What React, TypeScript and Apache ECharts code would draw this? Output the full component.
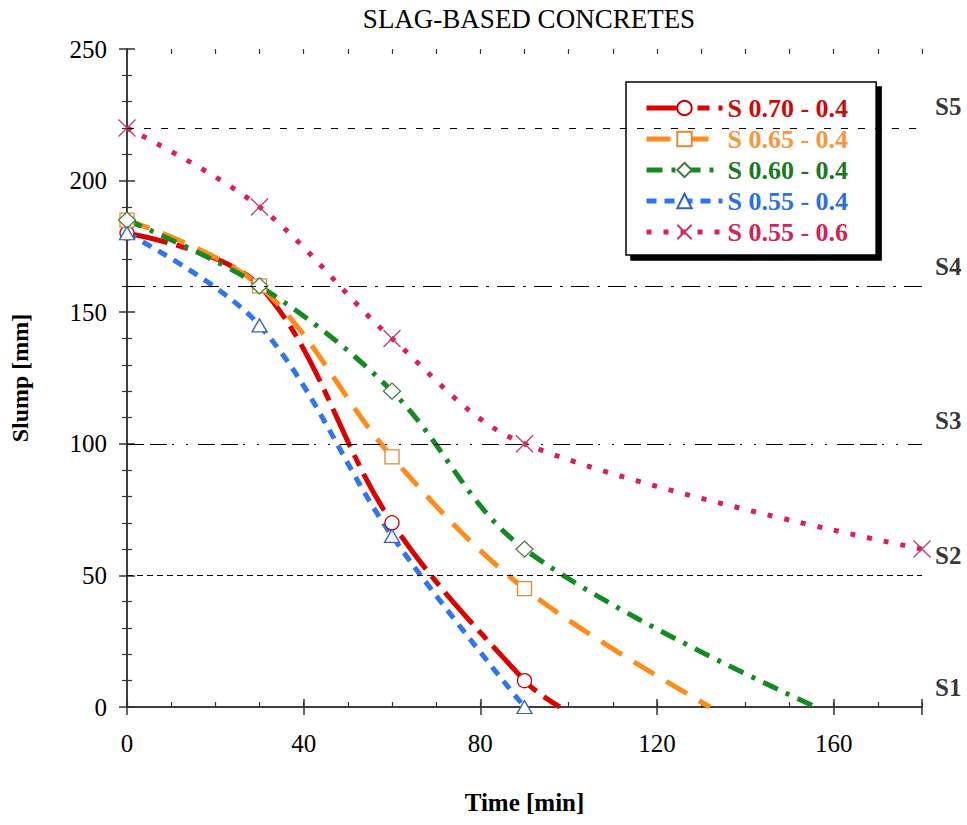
import React, { useEffect, useRef } from "react";
import * as echarts from "echarts";

const TITLE = "SLAG-BASED CONCRETES";
const X_NAME = "Time [min]";
const Y_NAME = "Slump [mm]";

const measureTimes = [0, 30, 60, 90];
const pinkTimes = [0, 30, 60, 90, 180];
const s070 = [180, 160, 70, 10];
const s065 = [185, 160, 95, 45];
const s060 = [185, 160, 120, 60];
const s055 = [180, 145, 65, 0];
const s055b = [220, 190, 140, 100, 60];
// where the fitted curves reach zero slump
const s070End = [98, 0];
const s065End = [132, 0];
const s060End = [156, 0];

const seriesNames = ["S 0.70 - 0.4", "S 0.65 - 0.4", "S 0.60 - 0.4", "S 0.55 - 0.4", "S 0.55 - 0.6"];
const classNames = ["S1", "S2", "S3", "S4", "S5"];
const classLabelY = [7.5, 57.5, 109, 167.5, 228];
const refLines = [220, 160, 100, 50];

const xMin = 0, xMax = 180, xMajor = 40, xMinor = 10;
const yMin = 0, yMax = 250, yMajor = 50;

const FONT = "'Liberation Serif', 'Times New Roman', serif";

const lineColors = ["#dd0000", "#ff8c1a", "#138a22", "#2f74f0", "#dc1e5a"];
const textColors = ["#cc0a0a", "#f7963a", "#19791f", "#2c6fe0", "#d4235a"];
const markerBorders = ["#cc0000", "#e08a30", "#3f7d3f", "#3060d0", "#c03a70"];
const dashes: any[] = [[42, 9, 12, 9], [24, 14], [16, 9, 4, 9], [10, 8], [5, 12]];
const symbols = ["circle", "rect", "diamond", "triangle", "path://M0 0L10 10M10 0L0 10"];
const symbolSizes: any[] = [14, 14, [17, 16], [15, 13], 17];
const refStyles: any[] = [[7, 10], [18, 8, 3, 8], [17, 6, 17, 5, 2, 12, 2, 10], [6, 4]];

function pts(times: number[], vals: number[], end?: number[]) {
  const d: any[] = times.map((t, i) => ({ value: [t, vals[i]] }));
  if (end) d.push({ value: end, symbol: "none" });
  return d;
}

export default function App() {
  const ref = useRef<HTMLDivElement>(null);
  useEffect(() => {
    if (!ref.current) return;
    const chart = echarts.init(ref.current, undefined, { renderer: "svg" });
    const datasets = [
      pts(measureTimes, s070, s070End),
      pts(measureTimes, s065, s065End),
      pts(measureTimes, s060, s060End),
      pts(measureTimes, s055),
      pts(pinkTimes, s055b),
    ];
    const axisLine = { show: true, lineStyle: { color: "#333", width: 1.5 } };
    const lineSeries = datasets.map((d, i) => ({
      name: seriesNames[i],
      type: "line",
      data: d,
      smooth: 0.35,
      symbol: symbols[i],
      symbolSize: symbolSizes[i],
      showAllSymbol: true,
      color: lineColors[i],
      lineStyle: { color: lineColors[i], width: 5, type: dashes[i], cap: "butt" },
      itemStyle: { color: "#fff", borderColor: markerBorders[i], borderWidth: 1.3 },
      z: 3,
    }));
    chart.setOption({
      animation: false,
      title: {
        text: TITLE,
        left: 524,
        top: 0,
        textAlign: "center",
        textStyle: { fontFamily: FONT, fontWeight: "normal", fontSize: 27, color: "#000" },
      },
      grid: { left: 127, right: 45, top: 49, bottom: 118 },
      legend: {
        orient: "vertical",
        left: 626,
        top: 82,
        padding: [13, 28, 10, 18],
        itemWidth: 76,
        itemHeight: 18,
        itemGap: 5,
        backgroundColor: "#fff",
        borderColor: "#000",
        borderWidth: 1.5,
        shadowColor: "#000",
        shadowOffsetX: 5,
        shadowOffsetY: 5,
        shadowBlur: 0,
        selectedMode: false,
        lineStyle: { width: 5 },
        textStyle: { fontFamily: FONT, fontWeight: "bold", fontSize: 26 },
        data: seriesNames.map((n, i) => ({ name: n, textStyle: { color: textColors[i] } })),
      },
      xAxis: [
        {
          type: "value", position: "bottom", min: xMin, max: xMax, interval: xMajor,
          axisLine, splitLine: { show: false },
          axisTick: { inside: true, length: 8, lineStyle: { color: "#333", width: 1.5 } },
          axisLabel: {
            fontFamily: FONT, fontSize: 25, color: "#000", margin: 24,
            formatter: (v: number) => (v === xMax ? "" : String(v)),
          },
          name: X_NAME, nameLocation: "middle", nameGap: 83,
          nameTextStyle: { fontFamily: FONT, fontWeight: "bold", fontSize: 25, color: "#000" },
        },
        {
          type: "value", position: "top", min: xMin, max: xMax, interval: xMajor,
          axisLine, splitLine: { show: false }, axisLabel: { show: false },
          axisTick: { inside: true, length: 8, lineStyle: { color: "#333", width: 1.5 } },
        },
        {
          type: "value", position: "bottom", min: xMin, max: xMax, interval: xMinor,
          axisLine: { show: false }, splitLine: { show: false }, axisLabel: { show: false },
          axisTick: { inside: true, length: 5, lineStyle: { color: "#333", width: 1.2 } },
        },
        {
          type: "value", position: "top", min: xMin, max: xMax, interval: xMinor,
          axisLine: { show: false }, splitLine: { show: false }, axisLabel: { show: false },
          axisTick: { inside: true, length: 5, lineStyle: { color: "#333", width: 1.2 } },
        },
      ],
      yAxis: [
        {
          type: "value", position: "left", min: yMin, max: yMax, interval: yMajor,
          axisLine, splitLine: { show: false },
          axisTick: { inside: true, length: 8, lineStyle: { color: "#333", width: 1.5 } },
          minorTick: { show: true, splitNumber: 5, length: 5, lineStyle: { color: "#333", width: 1.2 } },
          axisLabel: { fontFamily: FONT, fontSize: 25, color: "#000", margin: 20 },
          name: Y_NAME, nameLocation: "middle", nameGap: 95,
          nameTextStyle: { fontFamily: FONT, fontWeight: "bold", fontSize: 24, color: "#000" },
        },
        {
          type: "value", position: "right", min: yMin, max: yMax, interval: yMajor,
          axisLine, splitLine: { show: false }, axisLabel: { show: false },
          axisTick: { inside: true, length: 8, lineStyle: { color: "#333", width: 1.5 } },
          minorTick: { show: true, splitNumber: 5, length: 5, lineStyle: { color: "#333", width: 1.2 } },
        },
      ],
      series: [
        {
          name: "refs",
          type: "line",
          data: [],
          silent: true,
          markLine: {
            silent: true,
            symbol: ["none", "none"],
            label: { show: false },
            data: refLines.map((v, i) => ({
              yAxis: v,
              lineStyle: { color: "#000", width: 1, type: refStyles[i] },
            })),
          },
        },
        ...lineSeries,
        {
          name: "classes",
          type: "scatter",
          data: classLabelY.map((v, i) => ({ value: [xMax, v], name: classNames[i] })),
          symbolSize: 0,
          silent: true,
          clip: false,
          label: {
            show: true,
            position: "right",
            distance: 13,
            formatter: "{b}",
            fontFamily: FONT,
            fontWeight: "bold",
            fontSize: 25,
            color: "#000",
          },
        },
      ],
    });
    return () => chart.dispose();
  }, []);
  return (
    <div
      ref={ref}
      style={{ position: "absolute", left: 0, top: 0, width: 967, height: 825, background: "#fff" }}
    />
  );
}
